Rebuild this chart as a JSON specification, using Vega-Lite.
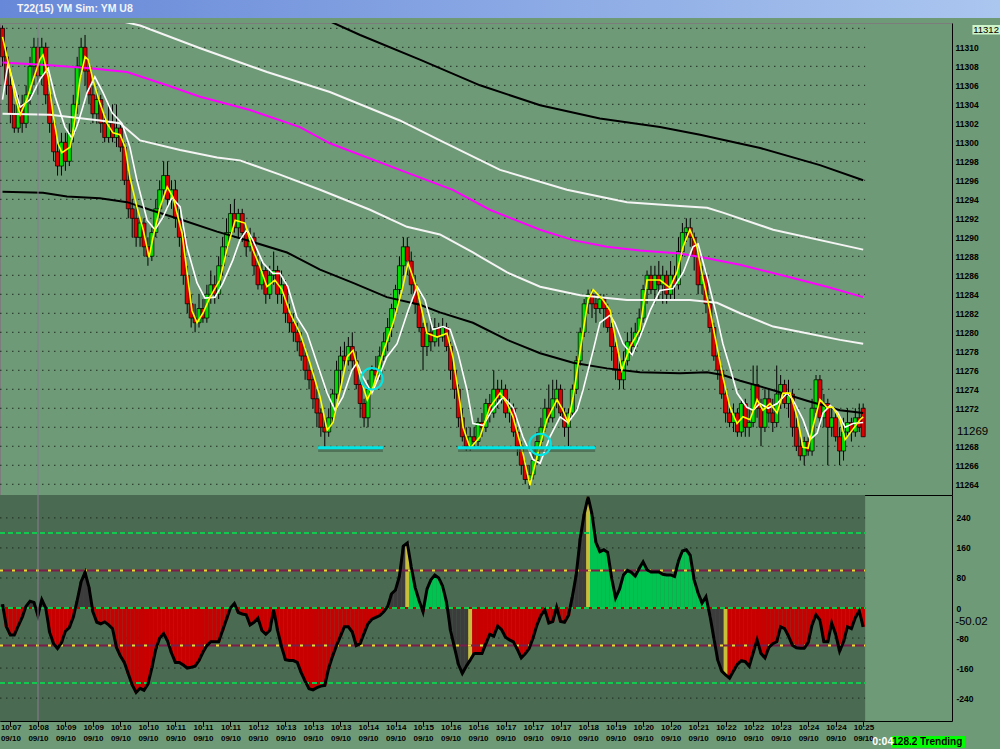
{
"$schema":"https://vega.github.io/schema/vega-lite/v6.json",
"background":"#6f9a77",
"padding":{"left":-4,"top":0,"right":0,"bottom":0},
"bounds":"flush",
"config":{"view":{"stroke":null},"scale":{"continuousPadding":0},"axis":{"labelFont":"Liberation Sans","labelFontWeight":"bold","labelFontSize":8.5,"labelColor":"#000"}},
"datasets":{
"bars":[
{"i":0,"o":11312,"h":11312.3,"l":11308,"c":11309,"v":10,"k":"d"},
{"i":1,"o":11309,"h":11310,"l":11305,"c":11306,"v":-50,"k":"r"},
{"i":2,"o":11306,"h":11307,"l":11302,"c":11303,"v":-72,"k":"r"},
{"i":3,"o":11303,"h":11304,"l":11301,"c":11301.5,"v":-72,"k":"r"},
{"i":4,"o":11301.5,"h":11305,"l":11301,"c":11304,"v":-48,"k":"r"},
{"i":5,"o":11304,"h":11305,"l":11301,"c":11302,"v":-25,"k":"r"},
{"i":6,"o":11302,"h":11306,"l":11301.5,"c":11305,"v":5,"k":"d"},
{"i":7,"o":11305,"h":11309,"l":11304,"c":11308,"v":18,"k":"d"},
{"i":8,"o":11308,"h":11311,"l":11306,"c":11310,"v":15,"k":"d"},
{"i":9,"o":11310,"h":11311,"l":11305,"c":11307,"v":-20,"k":"r"},
{"i":10,"o":11307,"h":11311,"l":11306,"c":11310,"v":22,"k":"d"},
{"i":11,"o":11310,"h":11310.5,"l":11304,"c":11305,"v":0,"k":"r"},
{"i":12,"o":11305,"h":11306,"l":11301,"c":11302,"v":-65,"k":"r"},
{"i":13,"o":11302,"h":11303,"l":11298,"c":11299,"v":-95,"k":"r"},
{"i":14,"o":11299,"h":11300,"l":11296.5,"c":11297.5,"v":-108,"k":"r"},
{"i":15,"o":11297.5,"h":11301,"l":11296.5,"c":11300,"v":-93,"k":"r"},
{"i":16,"o":11300,"h":11301,"l":11297,"c":11298,"v":-62,"k":"r"},
{"i":17,"o":11298,"h":11302,"l":11297.5,"c":11301,"v":-52,"k":"r"},
{"i":18,"o":11301,"h":11305,"l":11300,"c":11304,"v":-25,"k":"r"},
{"i":19,"o":11304,"h":11309,"l":11303,"c":11308,"v":20,"k":"d"},
{"i":20,"o":11308,"h":11311,"l":11307,"c":11310,"v":70,"k":"d"},
{"i":21,"o":11310,"h":11311.3,"l":11306,"c":11307.5,"v":95,"k":"d"},
{"i":22,"o":11307.5,"h":11308.5,"l":11304,"c":11305,"v":55,"k":"d"},
{"i":23,"o":11305,"h":11306,"l":11302,"c":11303,"v":-10,"k":"r"},
{"i":24,"o":11303,"h":11305.5,"l":11302,"c":11304.5,"v":-38,"k":"r"},
{"i":25,"o":11304.5,"h":11305,"l":11301,"c":11302,"v":-42,"k":"r"},
{"i":26,"o":11302,"h":11303,"l":11300,"c":11300.5,"v":-37,"k":"r"},
{"i":27,"o":11300.5,"h":11304,"l":11300,"c":11302,"v":-45,"k":"r"},
{"i":28,"o":11302,"h":11304,"l":11300,"c":11300.5,"v":-55,"k":"r"},
{"i":29,"o":11300.5,"h":11304,"l":11299.5,"c":11301.5,"v":-105,"k":"r"},
{"i":30,"o":11301.5,"h":11302,"l":11299,"c":11299.5,"v":-128,"k":"r"},
{"i":31,"o":11299.5,"h":11300,"l":11295.5,"c":11296,"v":-145,"k":"r"},
{"i":32,"o":11296,"h":11297,"l":11292,"c":11293,"v":-175,"k":"r"},
{"i":33,"o":11293,"h":11294,"l":11290,"c":11292,"v":-205,"k":"r"},
{"i":34,"o":11292,"h":11293.5,"l":11289,"c":11290,"v":-225,"k":"r"},
{"i":35,"o":11290,"h":11292,"l":11289,"c":11291.5,"v":-214,"k":"r"},
{"i":36,"o":11291.5,"h":11292,"l":11288,"c":11289,"v":-219,"k":"r"},
{"i":37,"o":11289,"h":11290,"l":11287,"c":11288,"v":-203,"k":"r"},
{"i":38,"o":11288,"h":11291,"l":11287.5,"c":11290.5,"v":-160,"k":"r"},
{"i":39,"o":11290.5,"h":11294,"l":11290,"c":11293,"v":-110,"k":"r"},
{"i":40,"o":11293,"h":11296,"l":11292,"c":11295,"v":-80,"k":"r"},
{"i":41,"o":11295,"h":11298,"l":11294,"c":11296.5,"v":-68,"k":"r"},
{"i":42,"o":11296.5,"h":11298,"l":11293,"c":11294,"v":-88,"k":"r"},
{"i":43,"o":11294,"h":11296,"l":11293,"c":11295,"v":-120,"k":"r"},
{"i":44,"o":11295,"h":11296,"l":11291,"c":11292,"v":-145,"k":"r"},
{"i":45,"o":11292,"h":11293,"l":11289,"c":11290,"v":-145,"k":"r"},
{"i":46,"o":11290,"h":11291,"l":11285,"c":11286,"v":-152,"k":"r"},
{"i":47,"o":11286,"h":11287,"l":11282,"c":11283,"v":-160,"k":"r"},
{"i":48,"o":11283,"h":11284,"l":11280.5,"c":11281.5,"v":-158,"k":"r"},
{"i":49,"o":11281.5,"h":11283,"l":11280,"c":11281,"v":-155,"k":"r"},
{"i":50,"o":11281,"h":11284,"l":11280.5,"c":11282.5,"v":-140,"k":"r"},
{"i":51,"o":11282.5,"h":11283.5,"l":11281,"c":11281.5,"v":-118,"k":"r"},
{"i":52,"o":11281.5,"h":11285,"l":11281,"c":11284,"v":-100,"k":"r"},
{"i":53,"o":11284,"h":11286.5,"l":11283,"c":11285,"v":-90,"k":"r"},
{"i":54,"o":11285,"h":11286,"l":11283,"c":11284,"v":-90,"k":"r"},
{"i":55,"o":11284,"h":11288,"l":11283.5,"c":11287,"v":-90,"k":"r"},
{"i":56,"o":11287,"h":11290,"l":11286,"c":11289,"v":-60,"k":"r"},
{"i":57,"o":11289,"h":11292,"l":11288,"c":11290.5,"v":-30,"k":"r"},
{"i":58,"o":11290.5,"h":11293.5,"l":11290,"c":11292.5,"v":0,"k":"r"},
{"i":59,"o":11292.5,"h":11294,"l":11290.5,"c":11291,"v":12,"k":"d"},
{"i":60,"o":11291,"h":11293,"l":11290,"c":11292.5,"v":-12,"k":"r"},
{"i":61,"o":11292.5,"h":11293,"l":11289.5,"c":11290.5,"v":-16,"k":"r"},
{"i":62,"o":11290.5,"h":11291,"l":11288,"c":11289,"v":-18,"k":"r"},
{"i":63,"o":11289,"h":11291,"l":11288.5,"c":11290,"v":-45,"k":"r"},
{"i":64,"o":11290,"h":11290.5,"l":11286,"c":11287,"v":-38,"k":"r"},
{"i":65,"o":11287,"h":11288,"l":11284.5,"c":11285,"v":-27,"k":"r"},
{"i":66,"o":11285,"h":11287.5,"l":11284.5,"c":11286.5,"v":-60,"k":"r"},
{"i":67,"o":11286.5,"h":11287,"l":11283,"c":11284,"v":-70,"k":"r"},
{"i":68,"o":11284,"h":11287,"l":11283.5,"c":11286,"v":-60,"k":"r"},
{"i":69,"o":11286,"h":11288.5,"l":11285,"c":11286.5,"v":-5,"k":"r"},
{"i":70,"o":11286.5,"h":11287,"l":11283,"c":11284,"v":-60,"k":"r"},
{"i":71,"o":11284,"h":11286.5,"l":11283,"c":11285,"v":-103,"k":"r"},
{"i":72,"o":11285,"h":11285.5,"l":11281,"c":11282,"v":-138,"k":"r"},
{"i":73,"o":11282,"h":11283,"l":11280,"c":11281,"v":-140,"k":"r"},
{"i":74,"o":11281,"h":11282,"l":11279,"c":11280,"v":-140,"k":"r"},
{"i":75,"o":11280,"h":11281,"l":11278,"c":11279,"v":-145,"k":"r"},
{"i":76,"o":11279,"h":11280,"l":11277,"c":11277.5,"v":-172,"k":"r"},
{"i":77,"o":11277.5,"h":11278.5,"l":11275,"c":11276,"v":-195,"k":"r"},
{"i":78,"o":11276,"h":11277,"l":11274,"c":11275,"v":-215,"k":"r"},
{"i":79,"o":11275,"h":11276,"l":11272,"c":11273,"v":-218,"k":"r"},
{"i":80,"o":11273,"h":11274,"l":11270,"c":11271.5,"v":-212,"k":"r"},
{"i":81,"o":11271.5,"h":11272,"l":11269,"c":11270,"v":-208,"k":"r"},
{"i":82,"o":11270,"h":11271,"l":11268,"c":11269.5,"v":-206,"k":"r"},
{"i":83,"o":11269.5,"h":11272,"l":11269,"c":11271,"v":-160,"k":"r"},
{"i":84,"o":11271,"h":11274,"l":11270.5,"c":11273.5,"v":-128,"k":"r"},
{"i":85,"o":11273.5,"h":11277,"l":11273,"c":11276,"v":-100,"k":"r"},
{"i":86,"o":11276,"h":11278.5,"l":11274,"c":11277.5,"v":-75,"k":"r"},
{"i":87,"o":11277.5,"h":11279,"l":11276,"c":11277,"v":-50,"k":"r"},
{"i":88,"o":11277,"h":11279.5,"l":11276.5,"c":11278.5,"v":-50,"k":"r"},
{"i":89,"o":11278.5,"h":11280,"l":11276,"c":11277,"v":-64,"k":"r"},
{"i":90,"o":11277,"h":11278,"l":11274,"c":11274.5,"v":-100,"k":"r"},
{"i":91,"o":11274.5,"h":11275,"l":11271,"c":11272.5,"v":-95,"k":"r"},
{"i":92,"o":11272.5,"h":11273,"l":11270,"c":11271,"v":-68,"k":"r"},
{"i":93,"o":11271,"h":11275,"l":11270,"c":11274,"v":-42,"k":"r"},
{"i":94,"o":11274,"h":11276.5,"l":11273.5,"c":11276,"v":-30,"k":"r"},
{"i":95,"o":11276,"h":11277.5,"l":11275,"c":11275.5,"v":-25,"k":"r"},
{"i":96,"o":11275.5,"h":11278.5,"l":11275,"c":11277.5,"v":-20,"k":"r"},
{"i":97,"o":11277.5,"h":11280,"l":11277,"c":11279,"v":-10,"k":"r"},
{"i":98,"o":11279,"h":11281.5,"l":11278,"c":11280.5,"v":4,"k":"d"},
{"i":99,"o":11280.5,"h":11283,"l":11279.5,"c":11282.5,"v":38,"k":"d"},
{"i":100,"o":11282.5,"h":11285,"l":11282,"c":11284.5,"v":48,"k":"d"},
{"i":101,"o":11284.5,"h":11288,"l":11284,"c":11287,"v":85,"k":"d"},
{"i":102,"o":11287,"h":11290,"l":11286,"c":11289,"v":165,"k":"d"},
{"i":103,"o":11289,"h":11290,"l":11286,"c":11287.5,"v":173,"k":"y"},
{"i":104,"o":11287.5,"h":11288.5,"l":11284,"c":11285,"v":110,"k":"g"},
{"i":105,"o":11285,"h":11286,"l":11282,"c":11283,"v":55,"k":"g"},
{"i":106,"o":11283,"h":11283.5,"l":11280,"c":11280.5,"v":20,"k":"g"},
{"i":107,"o":11280.5,"h":11281,"l":11276,"c":11278.5,"v":-10,"k":"r"},
{"i":108,"o":11278.5,"h":11281,"l":11277.5,"c":11280,"v":50,"k":"g"},
{"i":109,"o":11280,"h":11281.5,"l":11278,"c":11279,"v":75,"k":"g"},
{"i":110,"o":11279,"h":11281.5,"l":11278.5,"c":11280.5,"v":88,"k":"g"},
{"i":111,"o":11280.5,"h":11281,"l":11278.5,"c":11279.5,"v":80,"k":"g"},
{"i":112,"o":11279.5,"h":11281.5,"l":11279,"c":11280.5,"v":58,"k":"g"},
{"i":113,"o":11280.5,"h":11281,"l":11278,"c":11278.5,"v":15,"k":"g"},
{"i":114,"o":11278.5,"h":11279,"l":11275,"c":11276,"v":-60,"k":"d"},
{"i":115,"o":11276,"h":11276.5,"l":11273,"c":11274,"v":-105,"k":"d"},
{"i":116,"o":11274,"h":11274.5,"l":11270,"c":11271,"v":-150,"k":"d"},
{"i":117,"o":11271,"h":11272,"l":11268.5,"c":11269,"v":-174,"k":"d"},
{"i":118,"o":11269,"h":11270,"l":11267.5,"c":11268,"v":-155,"k":"d"},
{"i":119,"o":11268,"h":11270,"l":11267.5,"c":11269,"v":-139,"k":"y"},
{"i":120,"o":11269,"h":11270,"l":11268,"c":11268.5,"v":-121,"k":"r"},
{"i":121,"o":11268.5,"h":11271,"l":11268,"c":11270.5,"v":-121,"k":"r"},
{"i":122,"o":11270.5,"h":11271.5,"l":11269,"c":11270,"v":-121,"k":"r"},
{"i":123,"o":11270,"h":11273,"l":11269.5,"c":11272.5,"v":-95,"k":"r"},
{"i":124,"o":11272.5,"h":11273.5,"l":11270.5,"c":11271.5,"v":-70,"k":"r"},
{"i":125,"o":11271.5,"h":11276,"l":11271,"c":11274,"v":-75,"k":"r"},
{"i":126,"o":11274,"h":11275,"l":11272,"c":11273,"v":-48,"k":"r"},
{"i":127,"o":11273,"h":11275,"l":11272.5,"c":11274,"v":-58,"k":"r"},
{"i":128,"o":11274,"h":11274.5,"l":11271,"c":11271.5,"v":-78,"k":"r"},
{"i":129,"o":11271.5,"h":11273,"l":11270.5,"c":11272,"v":-85,"k":"r"},
{"i":130,"o":11272,"h":11272.5,"l":11269,"c":11269.5,"v":-90,"k":"r"},
{"i":131,"o":11269.5,"h":11270,"l":11267,"c":11268,"v":-110,"k":"r"},
{"i":132,"o":11268,"h":11268.5,"l":11265,"c":11266,"v":-133,"k":"r"},
{"i":133,"o":11266,"h":11266.5,"l":11264,"c":11264.5,"v":-122,"k":"r"},
{"i":134,"o":11264.5,"h":11266,"l":11263.5,"c":11265,"v":-108,"k":"r"},
{"i":135,"o":11265,"h":11267.5,"l":11264.5,"c":11266.5,"v":-80,"k":"r"},
{"i":136,"o":11266.5,"h":11269.5,"l":11266,"c":11268.5,"v":-45,"k":"r"},
{"i":137,"o":11268.5,"h":11271,"l":11268,"c":11270,"v":-20,"k":"r"},
{"i":138,"o":11270,"h":11273,"l":11269.5,"c":11272,"v":-5,"k":"r"},
{"i":139,"o":11272,"h":11274.5,"l":11270.5,"c":11271,"v":-40,"k":"r"},
{"i":140,"o":11271,"h":11275,"l":11270.5,"c":11273,"v":-36,"k":"r"},
{"i":141,"o":11273,"h":11275,"l":11272,"c":11274,"v":2,"k":"d"},
{"i":142,"o":11274,"h":11274.5,"l":11271,"c":11271.5,"v":-36,"k":"r"},
{"i":143,"o":11271.5,"h":11272,"l":11269,"c":11270,"v":-38,"k":"r"},
{"i":144,"o":11270,"h":11272,"l":11268,"c":11271.5,"v":-20,"k":"r"},
{"i":145,"o":11271.5,"h":11274.5,"l":11271,"c":11274,"v":30,"k":"d"},
{"i":146,"o":11274,"h":11277.5,"l":11273.5,"c":11277,"v":90,"k":"d"},
{"i":147,"o":11277,"h":11280.5,"l":11276.5,"c":11280,"v":185,"k":"d"},
{"i":148,"o":11280,"h":11283.5,"l":11279.5,"c":11283,"v":250,"k":"d"},
{"i":149,"o":11283,"h":11284.5,"l":11282,"c":11284,"v":296,"k":"y"},
{"i":150,"o":11284,"h":11284.5,"l":11281.5,"c":11283,"v":250,"k":"g"},
{"i":151,"o":11283,"h":11284,"l":11281,"c":11282.5,"v":175,"k":"g"},
{"i":152,"o":11282.5,"h":11284,"l":11282,"c":11283.5,"v":150,"k":"g"},
{"i":153,"o":11283.5,"h":11284,"l":11280.5,"c":11282.5,"v":155,"k":"g"},
{"i":154,"o":11282.5,"h":11283,"l":11280,"c":11280.5,"v":148,"k":"g"},
{"i":155,"o":11280.5,"h":11281,"l":11277,"c":11278.5,"v":80,"k":"g"},
{"i":156,"o":11278.5,"h":11279,"l":11275,"c":11276,"v":27,"k":"g"},
{"i":157,"o":11276,"h":11277,"l":11274,"c":11275,"v":50,"k":"g"},
{"i":158,"o":11275,"h":11278,"l":11274,"c":11277,"v":88,"k":"g"},
{"i":159,"o":11277,"h":11280,"l":11276.5,"c":11279,"v":100,"k":"g"},
{"i":160,"o":11279,"h":11280.5,"l":11277.5,"c":11278.5,"v":95,"k":"g"},
{"i":161,"o":11278.5,"h":11281,"l":11278,"c":11280,"v":85,"k":"g"},
{"i":162,"o":11280,"h":11282.5,"l":11279.5,"c":11281.5,"v":105,"k":"g"},
{"i":163,"o":11281.5,"h":11285,"l":11281,"c":11284.5,"v":123,"k":"g"},
{"i":164,"o":11284.5,"h":11286.5,"l":11283,"c":11286,"v":102,"k":"g"},
{"i":165,"o":11286,"h":11287,"l":11284,"c":11284.5,"v":96,"k":"g"},
{"i":166,"o":11284.5,"h":11287,"l":11283,"c":11286,"v":96,"k":"g"},
{"i":167,"o":11286,"h":11287.5,"l":11283.5,"c":11285,"v":96,"k":"g"},
{"i":168,"o":11285,"h":11287,"l":11283,"c":11286,"v":90,"k":"g"},
{"i":169,"o":11286,"h":11286.5,"l":11283,"c":11284,"v":88,"k":"g"},
{"i":170,"o":11284,"h":11287.5,"l":11283.5,"c":11286,"v":88,"k":"g"},
{"i":171,"o":11286,"h":11287,"l":11283.5,"c":11285,"v":84,"k":"g"},
{"i":172,"o":11285,"h":11290,"l":11284.5,"c":11288.5,"v":125,"k":"g"},
{"i":173,"o":11288.5,"h":11291.5,"l":11288,"c":11290.5,"v":152,"k":"g"},
{"i":174,"o":11290.5,"h":11292,"l":11289.5,"c":11291,"v":155,"k":"g"},
{"i":175,"o":11291,"h":11292,"l":11289,"c":11290,"v":140,"k":"g"},
{"i":176,"o":11290,"h":11290.5,"l":11286.5,"c":11288,"v":75,"k":"g"},
{"i":177,"o":11288,"h":11288.5,"l":11284,"c":11285,"v":40,"k":"g"},
{"i":178,"o":11285,"h":11287,"l":11284,"c":11286,"v":13,"k":"g"},
{"i":179,"o":11286,"h":11286.5,"l":11282,"c":11283,"v":30,"k":"g"},
{"i":180,"o":11283,"h":11283.5,"l":11280,"c":11280.5,"v":-20,"k":"d"},
{"i":181,"o":11280.5,"h":11281,"l":11277,"c":11277.5,"v":-80,"k":"d"},
{"i":182,"o":11277.5,"h":11278,"l":11275,"c":11276,"v":-139,"k":"d"},
{"i":183,"o":11276,"h":11276.5,"l":11273,"c":11273.5,"v":-168,"k":"d"},
{"i":184,"o":11273.5,"h":11274,"l":11270.5,"c":11271.5,"v":-178,"k":"y"},
{"i":185,"o":11271.5,"h":11272.5,"l":11270,"c":11270.5,"v":-187,"k":"r"},
{"i":186,"o":11270.5,"h":11272.5,"l":11269.5,"c":11271.5,"v":-168,"k":"r"},
{"i":187,"o":11271.5,"h":11272,"l":11269,"c":11269.5,"v":-150,"k":"r"},
{"i":188,"o":11269.5,"h":11273,"l":11269,"c":11272.5,"v":-140,"k":"r"},
{"i":189,"o":11272.5,"h":11273,"l":11269,"c":11270,"v":-143,"k":"r"},
{"i":190,"o":11270,"h":11272,"l":11269,"c":11270.5,"v":-155,"k":"r"},
{"i":191,"o":11270.5,"h":11276.5,"l":11270,"c":11274.5,"v":-120,"k":"r"},
{"i":192,"o":11274.5,"h":11276.5,"l":11271,"c":11272,"v":-85,"k":"r"},
{"i":193,"o":11272,"h":11273,"l":11268,"c":11270,"v":-121,"k":"r"},
{"i":194,"o":11270,"h":11274,"l":11269.5,"c":11273,"v":-133,"k":"r"},
{"i":195,"o":11273,"h":11274,"l":11270.5,"c":11271.5,"v":-105,"k":"r"},
{"i":196,"o":11271.5,"h":11273,"l":11269.5,"c":11270.5,"v":-95,"k":"r"},
{"i":197,"o":11270.5,"h":11276.5,"l":11270,"c":11273.5,"v":-90,"k":"r"},
{"i":198,"o":11273.5,"h":11275.5,"l":11272,"c":11274.5,"v":-50,"k":"r"},
{"i":199,"o":11274.5,"h":11275,"l":11272,"c":11272.5,"v":-55,"k":"r"},
{"i":200,"o":11272.5,"h":11275,"l":11271,"c":11273.5,"v":-75,"k":"r"},
{"i":201,"o":11273.5,"h":11274,"l":11269,"c":11270,"v":-99,"k":"r"},
{"i":202,"o":11270,"h":11271,"l":11267.5,"c":11268,"v":-106,"k":"r"},
{"i":203,"o":11268,"h":11269,"l":11266.5,"c":11267,"v":-107,"k":"r"},
{"i":204,"o":11267,"h":11269,"l":11266,"c":11268.5,"v":-107,"k":"r"},
{"i":205,"o":11268.5,"h":11269,"l":11267,"c":11267.5,"v":-92,"k":"r"},
{"i":206,"o":11267.5,"h":11273,"l":11267,"c":11272,"v":-45,"k":"r"},
{"i":207,"o":11272,"h":11275.5,"l":11271.5,"c":11275,"v":-18,"k":"r"},
{"i":208,"o":11275,"h":11275.5,"l":11270,"c":11271,"v":-32,"k":"r"},
{"i":209,"o":11271,"h":11273.5,"l":11270,"c":11272.5,"v":-90,"k":"r"},
{"i":210,"o":11272.5,"h":11273,"l":11266,"c":11270,"v":-90,"k":"r"},
{"i":211,"o":11270,"h":11272,"l":11269,"c":11271,"v":-40,"k":"r"},
{"i":212,"o":11271,"h":11272,"l":11268.5,"c":11269,"v":-70,"k":"r"},
{"i":213,"o":11269,"h":11270,"l":11266,"c":11267.5,"v":-115,"k":"r"},
{"i":214,"o":11267.5,"h":11271,"l":11266.5,"c":11269.5,"v":-90,"k":"r"},
{"i":215,"o":11269.5,"h":11272,"l":11269,"c":11270.5,"v":-50,"k":"r"},
{"i":216,"o":11270.5,"h":11271,"l":11268.5,"c":11269.5,"v":-55,"k":"r"},
{"i":217,"o":11269.5,"h":11272,"l":11269,"c":11271,"v":-26,"k":"r"},
{"i":218,"o":11271,"h":11272.5,"l":11269.5,"c":11270,"v":-8,"k":"r"},
{"i":219,"o":11272,"h":11272.5,"l":11269,"c":11269,"v":-50,"k":"r"}
],
"lines":[
{"s":"u","i":22.3,"p":11313.2},{"s":"u","i":26.6,"p":11313.1},{"s":"u","i":35.0,"p":11312.3},{"s":"u","i":50.3,"p":11309.9},{"s":"u","i":67.3,"p":11307.4},{"s":"u","i":83.3,"p":11305.3},{"s":"u","i":101.1,"p":11302.3},{"s":"u","i":111.3,"p":11300.2},{"s":"u","i":126.6,"p":11297.1},{"s":"u","i":143.6,"p":11295.0},{"s":"u","i":158.9,"p":11293.7},{"s":"u","i":172.4,"p":11293.3},{"s":"u","i":179.3,"p":11293.1},{"s":"u","i":183.3,"p":11292.6},{"s":"u","i":196.1,"p":11290.8},{"s":"u","i":219.0,"p":11288.7},
{"s":"m","i":0,"p":11303.0},{"s":"m","i":12.1,"p":11302.9},{"s":"m","i":24.8,"p":11302.3},{"s":"m","i":29.9,"p":11302.0},{"s":"m","i":35.0,"p":11300.2},{"s":"m","i":45.2,"p":11299.2},{"s":"m","i":54.6,"p":11298.4},{"s":"m","i":60.4,"p":11298.1},{"s":"m","i":70.6,"p":11296.6},{"s":"m","i":80.8,"p":11295.0},{"s":"m","i":93.5,"p":11292.9},{"s":"m","i":102.9,"p":11291.1},{"s":"m","i":111.3,"p":11290.3},{"s":"m","i":119.7,"p":11288.4},{"s":"m","i":128.4,"p":11286.3},{"s":"m","i":136.8,"p":11284.8},{"s":"m","i":147.0,"p":11283.9},{"s":"m","i":158.9,"p":11283.4},{"s":"m","i":174.9,"p":11283.4},{"s":"m","i":181.8,"p":11283.1},{"s":"m","i":187.7,"p":11282.0},{"s":"m","i":196.1,"p":11280.6},{"s":"m","i":204.7,"p":11279.9},{"s":"m","i":213.1,"p":11279.2},{"s":"m","i":219.0,"p":11278.8},
{"s":"g","i":0,"p":11308.4},{"s":"g","i":12.1,"p":11308.1},{"s":"g","i":22.3,"p":11307.8},{"s":"g","i":31.7,"p":11307.4},{"s":"g","i":41.9,"p":11306.0},{"s":"g","i":50.3,"p":11304.8},{"s":"g","i":63.0,"p":11303.4},{"s":"g","i":75.7,"p":11301.6},{"s":"g","i":83.3,"p":11299.9},{"s":"g","i":101.1,"p":11297.1},{"s":"g","i":114.6,"p":11295.0},{"s":"g","i":124.0,"p":11292.9},{"s":"g","i":136.8,"p":11290.8},{"s":"g","i":145.2,"p":11289.7},{"s":"g","i":153.8,"p":11289.0},{"s":"g","i":162.2,"p":11288.6},{"s":"g","i":172.4,"p":11288.3},{"s":"g","i":179.3,"p":11287.8},{"s":"g","i":187.7,"p":11287.1},{"s":"g","i":200.4,"p":11285.8},{"s":"g","i":209.8,"p":11284.8},{"s":"g","i":219.0,"p":11283.7},
{"s":"b","i":80.8,"p":11313.2},{"s":"b","i":91.0,"p":11311.3},{"s":"b","i":106.2,"p":11308.7},{"s":"b","i":121.5,"p":11306.0},{"s":"b","i":136.8,"p":11303.9},{"s":"b","i":152.0,"p":11302.5},{"s":"b","i":167.3,"p":11301.6},{"s":"b","i":177.5,"p":11300.8},{"s":"b","i":192.8,"p":11299.4},{"s":"b","i":208.0,"p":11297.6},{"s":"b","i":219.0,"p":11296.0},
{"s":"k","i":0,"p":11294.8},{"s":"k","i":10.3,"p":11294.7},{"s":"k","i":16.4,"p":11294.3},{"s":"k","i":24.8,"p":11294.1},{"s":"k","i":31.7,"p":11293.7},{"s":"k","i":37.5,"p":11292.9},{"s":"k","i":45.9,"p":11291.8},{"s":"k","i":54.6,"p":11290.6},{"s":"k","i":63.7,"p":11289.5},{"s":"k","i":72.4,"p":11288.4},{"s":"k","i":80.8,"p":11286.6},{"s":"k","i":89.2,"p":11285.2},{"s":"k","i":97.8,"p":11283.7},{"s":"k","i":106.2,"p":11282.9},{"s":"k","i":111.3,"p":11282.1},{"s":"k","i":119.7,"p":11281.0},{"s":"k","i":128.4,"p":11279.2},{"s":"k","i":136.8,"p":11277.8},{"s":"k","i":145.2,"p":11276.8},{"s":"k","i":153.8,"p":11276.2},{"s":"k","i":162.2,"p":11275.8},{"s":"k","i":172.4,"p":11275.7},{"s":"k","i":179.3,"p":11275.8},{"s":"k","i":183.3,"p":11275.5},{"s":"k","i":187.7,"p":11274.9},{"s":"k","i":196.1,"p":11273.9},{"s":"k","i":204.7,"p":11272.8},{"s":"k","i":213.1,"p":11271.8},{"s":"k","i":219.0,"p":11271.5},
{"s":"w","i":0,"p":11304.5},{"s":"w","i":1.4,"p":11308.3},{"s":"w","i":4.5,"p":11303.7},{"s":"w","i":7.0,"p":11304.5},{"s":"w","i":9.5,"p":11306.6},{"s":"w","i":11.6,"p":11307.8},{"s":"w","i":13.4,"p":11304.8},{"s":"w","i":15.9,"p":11301.6},{"s":"w","i":17.7,"p":11300.4},{"s":"w","i":19.2,"p":11302.0},{"s":"w","i":21.5,"p":11305.2},{"s":"w","i":23.5,"p":11306.9},{"s":"w","i":25.6,"p":11305.2},{"s":"w","i":27.9,"p":11303.1},{"s":"w","i":30.4,"p":11302.0},{"s":"w","i":32.4,"p":11299.5},{"s":"w","i":34.2,"p":11296.0},{"s":"w","i":36.8,"p":11291.8},{"s":"w","i":38.8,"p":11290.8},{"s":"w","i":40.8,"p":11292.1},{"s":"w","i":43.1,"p":11294.2},{"s":"w","i":45.2,"p":11293.2},{"s":"w","i":46.9,"p":11289.0},{"s":"w","i":49.5,"p":11285.2},{"s":"w","i":51.5,"p":11283.6},{"s":"w","i":54.1,"p":11283.7},{"s":"w","i":56.1,"p":11285.2},{"s":"w","i":58.6,"p":11287.6},{"s":"w","i":60.4,"p":11289.7},{"s":"w","i":62.2,"p":11290.8},{"s":"w","i":63.7,"p":11289.7},{"s":"w","i":66.3,"p":11287.3},{"s":"w","i":68.8,"p":11286.2},{"s":"w","i":70.6,"p":11286.2},{"s":"w","i":72.6,"p":11284.8},{"s":"w","i":74.9,"p":11281.6},{"s":"w","i":77.5,"p":11279.9},{"s":"w","i":80.0,"p":11276.8},{"s":"w","i":82.6,"p":11273.6},{"s":"w","i":84.6,"p":11271.8},{"s":"w","i":86.6,"p":11273.2},{"s":"w","i":88.9,"p":11276.0},{"s":"w","i":90.2,"p":11276.8},{"s":"w","i":91.7,"p":11275.3},{"s":"w","i":94.0,"p":11273.6},{"s":"w","i":96.1,"p":11275.7},{"s":"w","i":97.8,"p":11277.4},{"s":"w","i":100.4,"p":11278.8},{"s":"w","i":103.2,"p":11282.3},{"s":"w","i":105.5,"p":11284.8},{"s":"w","i":107.5,"p":11283.4},{"s":"w","i":109.5,"p":11280.3},{"s":"w","i":112.1,"p":11280.6},{"s":"w","i":113.9,"p":11280.3},{"s":"w","i":115.9,"p":11277.8},{"s":"w","i":118.2,"p":11273.9},{"s":"w","i":119.7,"p":11270.4},{"s":"w","i":122.3,"p":11270.2},{"s":"w","i":124.6,"p":11271.8},{"s":"w","i":127.4,"p":11273.2},{"s":"w","i":129.9,"p":11272.1},{"s":"w","i":132.4,"p":11269.0},{"s":"w","i":135.0,"p":11266.6},{"s":"w","i":136.8,"p":11266.2},{"s":"w","i":139.3,"p":11269.0},{"s":"w","i":141.9,"p":11271.1},{"s":"w","i":143.9,"p":11270.5},{"s":"w","i":146.2,"p":11271.8},{"s":"w","i":147.7,"p":11273.9},{"s":"w","i":150.3,"p":11278.1},{"s":"w","i":152.0,"p":11281.0},{"s":"w","i":154.6,"p":11281.8},{"s":"w","i":155.8,"p":11281.0},{"s":"w","i":157.9,"p":11278.8},{"s":"w","i":160.2,"p":11277.6},{"s":"w","i":162.2,"p":11279.5},{"s":"w","i":164.8,"p":11282.3},{"s":"w","i":167.3,"p":11284.4},{"s":"w","i":170.6,"p":11284.6},{"s":"w","i":173.2,"p":11286.3},{"s":"w","i":175.7,"p":11289.0},{"s":"w","i":177.0,"p":11289.3},{"s":"w","i":179.3,"p":11285.8},{"s":"w","i":181.8,"p":11281.6},{"s":"w","i":183.3,"p":11278.8},{"s":"w","i":185.1,"p":11276.3},{"s":"w","i":186.9,"p":11273.6},{"s":"w","i":189.4,"p":11272.1},{"s":"w","i":191.0,"p":11271.8},{"s":"w","i":192.7,"p":11272.5},{"s":"w","i":194.8,"p":11272.0},{"s":"w","i":197.1,"p":11272.5},{"s":"w","i":199.6,"p":11273.6},{"s":"w","i":201.1,"p":11272.9},{"s":"w","i":203.7,"p":11270.8},{"s":"w","i":205.5,"p":11268.7},{"s":"w","i":207.3,"p":11269.4},{"s":"w","i":208.8,"p":11271.5},{"s":"w","i":210.6,"p":11272.3},{"s":"w","i":212.6,"p":11271.5},{"s":"w","i":214.4,"p":11270.0},{"s":"w","i":216.4,"p":11270.4},{"s":"w","i":219.0,"p":11270.5},
{"s":"y","i":0,"p":11311.1},{"s":"y","i":1.9,"p":11307.6},{"s":"y","i":3.2,"p":11304.8},{"s":"y","i":4.5,"p":11302.9},{"s":"y","i":6.2,"p":11304.5},{"s":"y","i":7.8,"p":11306.6},{"s":"y","i":9.5,"p":11308.7},{"s":"y","i":10.3,"p":11309.2},{"s":"y","i":11.6,"p":11306.9},{"s":"y","i":12.8,"p":11303.1},{"s":"y","i":14.1,"p":11299.9},{"s":"y","i":15.1,"p":11298.9},{"s":"y","i":17.2,"p":11299.5},{"s":"y","i":18.4,"p":11302.3},{"s":"y","i":19.7,"p":11306.6},{"s":"y","i":21.0,"p":11309.0},{"s":"y","i":21.8,"p":11308.7},{"s":"y","i":23.0,"p":11306.6},{"s":"y","i":24.8,"p":11304.1},{"s":"y","i":26.6,"p":11302.0},{"s":"y","i":28.1,"p":11301.0},{"s":"y","i":29.9,"p":11300.8},{"s":"y","i":31.2,"p":11299.5},{"s":"y","i":32.4,"p":11296.3},{"s":"y","i":34.2,"p":11293.2},{"s":"y","i":35.8,"p":11290.8},{"s":"y","i":37.3,"p":11287.9},{"s":"y","i":38.3,"p":11290.0},{"s":"y","i":40.1,"p":11293.2},{"s":"y","i":41.9,"p":11295.3},{"s":"y","i":43.4,"p":11294.2},{"s":"y","i":45.7,"p":11290.4},{"s":"y","i":46.9,"p":11286.5},{"s":"y","i":48.2,"p":11282.3},{"s":"y","i":49.5,"p":11281.0},{"s":"y","i":51.0,"p":11282.0},{"s":"y","i":52.8,"p":11283.7},{"s":"y","i":55.3,"p":11285.5},{"s":"y","i":57.1,"p":11288.7},{"s":"y","i":59.2,"p":11291.8},{"s":"y","i":61.7,"p":11291.5},{"s":"y","i":63.7,"p":11288.7},{"s":"y","i":65.5,"p":11286.9},{"s":"y","i":67.3,"p":11284.8},{"s":"y","i":69.3,"p":11285.5},{"s":"y","i":71.1,"p":11284.5},{"s":"y","i":73.2,"p":11282.0},{"s":"y","i":75.7,"p":11279.9},{"s":"y","i":78.2,"p":11276.8},{"s":"y","i":80.8,"p":11273.2},{"s":"y","i":82.6,"p":11269.7},{"s":"y","i":84.1,"p":11270.5},{"s":"y","i":85.9,"p":11273.9},{"s":"y","i":87.7,"p":11277.4},{"s":"y","i":89.2,"p":11278.1},{"s":"y","i":91.0,"p":11275.3},{"s":"y","i":92.8,"p":11272.9},{"s":"y","i":94.3,"p":11274.2},{"s":"y","i":96.8,"p":11277.8},{"s":"y","i":99.4,"p":11281.0},{"s":"y","i":101.7,"p":11284.5},{"s":"y","i":103.2,"p":11287.3},{"s":"y","i":105.5,"p":11284.5},{"s":"y","i":108.0,"p":11279.9},{"s":"y","i":110.6,"p":11279.5},{"s":"y","i":113.1,"p":11279.9},{"s":"y","i":114.6,"p":11277.4},{"s":"y","i":116.4,"p":11272.6},{"s":"y","i":117.2,"p":11270.0},{"s":"y","i":119.0,"p":11267.8},{"s":"y","i":121.5,"p":11269.0},{"s":"y","i":124.0,"p":11272.1},{"s":"y","i":126.6,"p":11273.6},{"s":"y","i":128.4,"p":11272.5},{"s":"y","i":129.9,"p":11271.1},{"s":"y","i":132.4,"p":11267.3},{"s":"y","i":134.2,"p":11263.9},{"s":"y","i":136.0,"p":11266.9},{"s":"y","i":138.5,"p":11270.8},{"s":"y","i":141.1,"p":11272.9},{"s":"y","i":142.6,"p":11271.8},{"s":"y","i":143.9,"p":11270.5},{"s":"y","i":145.2,"p":11273.2},{"s":"y","i":147.0,"p":11278.1},{"s":"y","i":149.0,"p":11283.4},{"s":"y","i":150.3,"p":11284.5},{"s":"y","i":152.8,"p":11283.4},{"s":"y","i":154.6,"p":11282.3},{"s":"y","i":156.4,"p":11278.5},{"s":"y","i":157.6,"p":11276.0},{"s":"y","i":159.7,"p":11278.5},{"s":"y","i":162.2,"p":11280.3},{"s":"y","i":164.0,"p":11285.5},{"s":"y","i":167.3,"p":11285.5},{"s":"y","i":169.8,"p":11284.7},{"s":"y","i":171.6,"p":11286.3},{"s":"y","i":173.2,"p":11289.0},{"s":"y","i":174.9,"p":11290.8},{"s":"y","i":176.7,"p":11289.0},{"s":"y","i":178.3,"p":11285.5},{"s":"y","i":180.0,"p":11282.3},{"s":"y","i":181.8,"p":11278.5},{"s":"y","i":183.3,"p":11275.3},{"s":"y","i":185.1,"p":11272.1},{"s":"y","i":186.9,"p":11270.4},{"s":"y","i":188.4,"p":11271.1},{"s":"y","i":190.2,"p":11270.8},{"s":"y","i":192.0,"p":11272.9},{"s":"y","i":193.5,"p":11271.8},{"s":"y","i":195.3,"p":11272.5},{"s":"y","i":197.1,"p":11271.5},{"s":"y","i":198.6,"p":11273.6},{"s":"y","i":200.4,"p":11273.6},{"s":"y","i":202.2,"p":11271.1},{"s":"y","i":203.7,"p":11267.9},{"s":"y","i":205.0,"p":11267.8},{"s":"y","i":206.2,"p":11270.0},{"s":"y","i":208.0,"p":11272.9},{"s":"y","i":209.8,"p":11272.1},{"s":"y","i":211.3,"p":11272.1},{"s":"y","i":213.1,"p":11270.8},{"s":"y","i":214.4,"p":11268.7},{"s":"y","i":216.2,"p":11269.7},{"s":"y","i":218.2,"p":11270.8},{"s":"y","i":219.0,"p":11271.1}
],
"pgrid":[{"g":11264},{"g":11266},{"g":11268},{"g":11270},{"g":11272},{"g":11274},{"g":11276},{"g":11278},{"g":11280},{"g":11282},{"g":11284},{"g":11286},{"g":11288},{"g":11290},{"g":11292},{"g":11294},{"g":11296},{"g":11298},{"g":11300},{"g":11302},{"g":11304},{"g":11306},{"g":11308},{"g":11310},{"g":11312}],
"ogrid":[{"v":240,"t":"d"},{"v":160,"t":"d"},{"v":80,"t":"d"},{"v":-80,"t":"d"},{"v":-160,"t":"d"},{"v":-240,"t":"d"},{"v":200,"t":"g"},{"v":-200,"t":"g"},{"v":0,"t":"z"},{"v":100,"t":"m"},{"v":-100,"t":"m"}],
"cursor":[{"c":9.03}]
},
"spacing":0,
"vconcat":[
{
"width":1000,"height":23,
"view":{"fill":null,"stroke":null},
"data":{"values":[{"t":"T22(15) YM Sim: YM U8"}]},
"layer":[
{"mark":{"type":"rect","fill":{"gradient":"linear","x1":0,"y1":0,"x2":1,"y2":0,"stops":[{"offset":0,"color":"#6788d8"},{"offset":1,"color":"#abc6ef"}]}},
 "encoding":{"x":{"value":0},"x2":{"value":"width"},"y":{"value":0},"y2":{"value":18}}},
{"mark":{"type":"text","align":"left","baseline":"middle","font":"Liberation Sans","fontWeight":"bold","fontSize":10.5,"color":"#f4f4f4"},
 "encoding":{"x":{"value":17},"y":{"value":9},"text":{"field":"t"}}}
]
},
{
"width":952,"height":472,
"view":{"fill":"#6f9a77","stroke":"#7c7c7c"},
"resolve":{"axis":{"x":"independent","y":"independent"}},
"layer":[
{"data":{"name":"pgrid"},"mark":{"type":"rule","color":"#1f2f22","strokeDash":[1.5,4.5],"strokeWidth":1},
 "encoding":{"y":{"field":"g","type":"quantitative","scale":{"domain":[11262.87,11312.56],"nice":false,"zero":false,"padding":0},
   "axis":{"orient":"right","values":[11264,11266,11268,11272,11274,11276,11278,11280,11282,11284,11286,11288,11290,11292,11294,11296,11298,11300,11302,11304,11306,11308,11310],"labelExpr":"''+datum.value","title":null,"ticks":false,"grid":false,"domain":true,"domainColor":"#000","domainWidth":1,"labelPadding":3,"labelOverlap":false}},
  "x":{"datum":-0.64,"type":"quantitative","scale":{"domain":[-0.64,241.6],"nice":false,"zero":false,"padding":0},"axis":null},"x2":{"datum":219.5}}},
{"data":{"name":"bars"},"mark":{"type":"rule","color":"#000","strokeWidth":1},
 "encoding":{"x":{"field":"i","type":"quantitative","scale":{"domain":[-0.64,241.6],"nice":false,"zero":false,"padding":0},"axis":null},
  "y":{"field":"l","type":"quantitative","scale":{"domain":[11262.87,11312.56],"nice":false,"zero":false,"padding":0},"axis":null},"y2":{"field":"h"}}},
{"data":{"name":"bars"},"mark":{"type":"bar","orient":"vertical","width":4,"stroke":"#000","strokeWidth":0.7},
 "encoding":{"x":{"field":"i","type":"quantitative","scale":{"domain":[-0.64,241.6],"nice":false,"zero":false,"padding":0},"axis":null},
  "y":{"field":"o","type":"quantitative","scale":{"domain":[11262.87,11312.56],"nice":false,"zero":false,"padding":0},"axis":null},"y2":{"field":"c"},
  "color":{"condition":{"test":"datum.c>datum.o","value":"#00dc00"},"value":"#dc0000"}}},
{"data":{"name":"lines"},"transform":[{"filter":{"field":"s","oneOf":["u","m"]}}],"mark":{"type":"line","strokeWidth":2,"color":"#f4f4f4","clip":true},
 "encoding":{"x":{"field":"i","type":"quantitative","scale":{"domain":[-0.64,241.6],"nice":false,"zero":false,"padding":0},"axis":null},
  "y":{"field":"p","type":"quantitative","scale":{"domain":[11262.87,11312.56],"nice":false,"zero":false,"padding":0},"axis":null},"detail":{"field":"s"}}},
{"data":{"name":"lines"},"transform":[{"filter":"datum.s=='g'"}],"mark":{"type":"line","strokeWidth":2,"color":"#ff00ff","clip":true},
 "encoding":{"x":{"field":"i","type":"quantitative","scale":{"domain":[-0.64,241.6],"nice":false,"zero":false,"padding":0},"axis":null},
  "y":{"field":"p","type":"quantitative","scale":{"domain":[11262.87,11312.56],"nice":false,"zero":false,"padding":0},"axis":null}}},
{"data":{"name":"lines"},"transform":[{"filter":{"field":"s","oneOf":["b","k"]}}],"mark":{"type":"line","strokeWidth":2,"color":"#000000","clip":true},
 "encoding":{"x":{"field":"i","type":"quantitative","scale":{"domain":[-0.64,241.6],"nice":false,"zero":false,"padding":0},"axis":null},
  "y":{"field":"p","type":"quantitative","scale":{"domain":[11262.87,11312.56],"nice":false,"zero":false,"padding":0},"axis":null},"detail":{"field":"s"}}},
{"data":{"name":"lines"},"transform":[{"filter":"datum.s=='w'"}],"mark":{"type":"line","strokeWidth":1.6,"color":"#ffffff","clip":true},
 "encoding":{"x":{"field":"i","type":"quantitative","scale":{"domain":[-0.64,241.6],"nice":false,"zero":false,"padding":0},"axis":null},
  "y":{"field":"p","type":"quantitative","scale":{"domain":[11262.87,11312.56],"nice":false,"zero":false,"padding":0},"axis":null}}},
{"data":{"name":"lines"},"transform":[{"filter":"datum.s=='y'"}],"mark":{"type":"line","strokeWidth":1.6,"color":"#ffff00","clip":true},
 "encoding":{"x":{"field":"i","type":"quantitative","scale":{"domain":[-0.64,241.6],"nice":false,"zero":false,"padding":0},"axis":null},
  "y":{"field":"p","type":"quantitative","scale":{"domain":[11262.87,11312.56],"nice":false,"zero":false,"padding":0},"axis":null}}},
{"data":{"values":[{"a":80.3,"b":96.8,"p":11267.55},{"a":115.9,"b":150.8,"p":11267.55}]},"mark":{"type":"rule","color":"#3d5a44","strokeWidth":3,"opacity":0.6},
 "encoding":{"x":{"field":"a","type":"quantitative","scale":{"domain":[-0.64,241.6],"nice":false,"zero":false,"padding":0},"axis":null},"x2":{"field":"b"},
  "y":{"field":"p","type":"quantitative","scale":{"domain":[11262.87,11312.56],"nice":false,"zero":false,"padding":0},"axis":null}}},
{"data":{"values":[{"a":80.3,"b":96.8,"p":11267.85},{"a":115.9,"b":150.8,"p":11267.85}]},"mark":{"type":"rule","color":"#00e6e6","strokeWidth":3},
 "encoding":{"x":{"field":"a","type":"quantitative","scale":{"domain":[-0.64,241.6],"nice":false,"zero":false,"padding":0},"axis":null},"x2":{"field":"b"},
  "y":{"field":"p","type":"quantitative","scale":{"domain":[11262.87,11312.56],"nice":false,"zero":false,"padding":0},"axis":null}}},
{"data":{"values":[{"i":94.0,"p":11275.1},{"i":136.8,"p":11268.2}]},"mark":{"type":"point","shape":"circle","filled":false,"size":460,"stroke":"#00e6e6","strokeWidth":2,"opacity":1},
 "encoding":{"x":{"field":"i","type":"quantitative","scale":{"domain":[-0.64,241.6],"nice":false,"zero":false,"padding":0},"axis":null},
  "y":{"field":"p","type":"quantitative","scale":{"domain":[11262.87,11312.56],"nice":false,"zero":false,"padding":0},"axis":null}}},
{"data":{"name":"cursor"},"mark":{"type":"rule","color":"#8a7a94","strokeWidth":1},
 "encoding":{"x":{"field":"c","type":"quantitative","scale":{"domain":[-0.64,241.6],"nice":false,"zero":false,"padding":0},"axis":null}}},
{"data":{"values":[{"i":242.9,"p":11269.5,"t":"11269"}]},"mark":{"type":"text","align":"left","baseline":"middle","font":"Liberation Sans","fontSize":11.5,"color":"#000"},
 "encoding":{"x":{"field":"i","type":"quantitative","scale":{"domain":[-0.64,241.6],"nice":false,"zero":false,"padding":0},"axis":null},
  "y":{"field":"p","type":"quantitative","scale":{"domain":[11262.87,11312.56],"nice":false,"zero":false,"padding":0},"axis":null},"text":{"field":"t"}}},
{"data":{"values":[{"a":246.8,"b":256,"p1":11312.35,"p2":11311.35}]},"mark":{"type":"rect","color":"#cdf5c9"},
 "encoding":{"x":{"field":"a","type":"quantitative","scale":{"domain":[-0.64,241.6],"nice":false,"zero":false,"padding":0},"axis":null},"x2":{"field":"b"},
  "y":{"field":"p1","type":"quantitative","scale":{"domain":[11262.87,11312.56],"nice":false,"zero":false,"padding":0},"axis":null},"y2":{"field":"p2"}}},
{"data":{"values":[{"i":247.0,"p":11311.85,"t":"11312"}]},"mark":{"type":"text","align":"left","baseline":"middle","font":"Liberation Sans","fontSize":9.5,"color":"#000"},
 "encoding":{"x":{"field":"i","type":"quantitative","scale":{"domain":[-0.64,241.6],"nice":false,"zero":false,"padding":0},"axis":null},
  "y":{"field":"p","type":"quantitative","scale":{"domain":[11262.87,11312.56],"nice":false,"zero":false,"padding":0},"axis":null},"text":{"field":"t"}}}
]
},
{
"width":952,"height":226,
"view":{"fill":"#6f9a77","stroke":"#000"},
"resolve":{"axis":{"x":"independent","y":"independent"}},
"layer":[
{"data":{"values":[{"a":-0.64,"b":219.5,"y1":301,"y2":-301}]},"mark":{"type":"rect","color":"#4a6b52"},
 "encoding":{"x":{"field":"a","type":"quantitative","scale":{"domain":[-0.64,241.6],"nice":false,"zero":false,"padding":0},"axis":null},"x2":{"field":"b"},
  "y":{"field":"y1","type":"quantitative","scale":{"domain":[-301,301],"nice":false,"zero":false,"padding":0},"axis":null},"y2":{"field":"y2"}}},
{"data":{"name":"ogrid"},"transform":[{"filter":"datum.t=='d'"}],"mark":{"type":"rule","color":"#1b2b1e","strokeDash":[1.5,4.5],"strokeWidth":1},
 "encoding":{"y":{"field":"v","type":"quantitative","scale":{"domain":[-301,301],"nice":false,"zero":false,"padding":0},"axis":null},
  "x":{"datum":-0.64,"type":"quantitative","scale":{"domain":[-0.64,241.6],"nice":false,"zero":false,"padding":0},"axis":null},"x2":{"datum":219.5}}},
{"data":{"name":"bars"},"mark":{"type":"bar","orient":"vertical","width":3.93},
 "encoding":{"x":{"field":"i","type":"quantitative","scale":{"domain":[-0.64,241.6],"nice":false,"zero":false,"padding":0},
   "axis":{"values":[2,9,16,23,30,37,44,51,58,65,72,79,86,93,100,107,114,121,128,135,142,149,156,163,170,177,184,191,198,205,212,219],
    "labelExpr":"[['10:07','10:08','10:09','10:09','10:10','10:10','10:11','10:11','10:11','10:12','10:13','10:13','10:13','10:14','10:14','10:15','10:16','10:16','10:17','10:17','10:17','10:18','10:19','10:20','10:20','10:21','10:22','10:22','10:23','10:24','10:24','10:25'][round((datum.value-2)/7)],'09/10']",
    "title":null,"domain":false,"ticks":true,"tickColor":"#000","tickSize":5,"labelPadding":-3,"labelLineHeight":11,"labelFontSize":8,"labelAlign":"left","labelOffset":-10,"labelOverlap":false,"labelBound":false,"labelFlush":false,"grid":false}},
  "y":{"field":"v","type":"quantitative","scale":{"domain":[-301,301],"nice":false,"zero":false,"padding":0},
   "axis":{"orient":"right","values":[240,160,80,0,-80,-160,-240],"labelExpr":"''+datum.value","title":null,"ticks":false,"grid":false,"domain":false,"labelPadding":4,"labelOverlap":false}},
  "y2":{"datum":0},
  "color":{"field":"k","type":"nominal","scale":{"domain":["r","g","d","y"],"range":["#c80000","#00c450","#3c3c3c","#c8be3c"]},"legend":null}}},
{"data":{"name":"ogrid"},"transform":[{"filter":"datum.t=='z'"}],"mark":{"type":"rule","color":"#c00000","strokeWidth":2},
 "encoding":{"y":{"field":"v","type":"quantitative","scale":{"domain":[-301,301],"nice":false,"zero":false,"padding":0},"axis":null},
  "x":{"datum":-0.64,"type":"quantitative","scale":{"domain":[-0.64,241.6],"nice":false,"zero":false,"padding":0},"axis":null},"x2":{"datum":219.5}}},
{"data":{"name":"ogrid"},"transform":[{"filter":"datum.t=='g' || datum.t=='z'"}],"mark":{"type":"rule","color":"#12c84e","strokeWidth":2,"strokeDash":[5,3]},
 "encoding":{"y":{"field":"v","type":"quantitative","scale":{"domain":[-301,301],"nice":false,"zero":false,"padding":0},"axis":null},
  "x":{"datum":-0.64,"type":"quantitative","scale":{"domain":[-0.64,241.6],"nice":false,"zero":false,"padding":0},"axis":null},"x2":{"datum":219.5}}},
{"data":{"name":"ogrid"},"transform":[{"filter":"datum.t=='m'"}],"mark":{"type":"rule","color":"#7a1f4c","strokeWidth":2},
 "encoding":{"y":{"field":"v","type":"quantitative","scale":{"domain":[-301,301],"nice":false,"zero":false,"padding":0},"axis":null},
  "x":{"datum":-0.64,"type":"quantitative","scale":{"domain":[-0.64,241.6],"nice":false,"zero":false,"padding":0},"axis":null},"x2":{"datum":219.5}}},
{"data":{"name":"ogrid"},"transform":[{"filter":"datum.t=='m'"}],"mark":{"type":"rule","color":"#e8e030","strokeWidth":2,"strokeDash":[3,9]},
 "encoding":{"y":{"field":"v","type":"quantitative","scale":{"domain":[-301,301],"nice":false,"zero":false,"padding":0},"axis":null},
  "x":{"datum":-0.64,"type":"quantitative","scale":{"domain":[-0.64,241.6],"nice":false,"zero":false,"padding":0},"axis":null},"x2":{"datum":219.5}}},
{"data":{"name":"bars"},"mark":{"type":"line","color":"#000","strokeWidth":3},
 "encoding":{"x":{"field":"i","type":"quantitative","scale":{"domain":[-0.64,241.6],"nice":false,"zero":false,"padding":0},"axis":null},
  "y":{"field":"v","type":"quantitative","scale":{"domain":[-301,301],"nice":false,"zero":false,"padding":0},"axis":null}}},
{"data":{"name":"cursor"},"mark":{"type":"rule","color":"#8a7a94","strokeWidth":1},
 "encoding":{"x":{"field":"c","type":"quantitative","scale":{"domain":[-0.64,241.6],"nice":false,"zero":false,"padding":0},"axis":null}}},
{"data":{"values":[{"i":242.4,"v":-37.3,"t":"-50.02"}]},"mark":{"type":"text","align":"left","baseline":"middle","font":"Liberation Sans","fontSize":11.5,"color":"#000"},
 "encoding":{"x":{"field":"i","type":"quantitative","scale":{"domain":[-0.64,241.6],"nice":false,"zero":false,"padding":0},"axis":null},
  "y":{"field":"v","type":"quantitative","scale":{"domain":[-301,301],"nice":false,"zero":false,"padding":0},"axis":null},"text":{"field":"t"}}},
{"data":{"values":[{"a":226.1,"b":245.0,"y1":-341,"y2":-372}]},"mark":{"type":"rect","color":"#00ff00"},
 "encoding":{"x":{"field":"a","type":"quantitative","scale":{"domain":[-0.64,241.6],"nice":false,"zero":false,"padding":0},"axis":null},"x2":{"field":"b"},
  "y":{"field":"y1","type":"quantitative","scale":{"domain":[-301,301],"nice":false,"zero":false,"padding":0},"axis":null},"y2":{"field":"y2"}}},
{"data":{"values":[{"i":221.3,"v":-357,"t":"0:04"}]},"mark":{"type":"text","align":"left","baseline":"middle","font":"Liberation Sans","fontWeight":"bold","fontSize":10.5,"color":"#ffffff"},
 "encoding":{"x":{"field":"i","type":"quantitative","scale":{"domain":[-0.64,241.6],"nice":false,"zero":false,"padding":0},"axis":null},
  "y":{"field":"v","type":"quantitative","scale":{"domain":[-301,301],"nice":false,"zero":false,"padding":0},"axis":null},"text":{"field":"t"}}},
{"data":{"values":[{"i":226.4,"v":-357,"t":"128.2 Trending"}]},"mark":{"type":"text","align":"left","baseline":"middle","font":"Liberation Sans","fontWeight":"bold","fontSize":10,"color":"#000"},
 "encoding":{"x":{"field":"i","type":"quantitative","scale":{"domain":[-0.64,241.6],"nice":false,"zero":false,"padding":0},"axis":null},
  "y":{"field":"v","type":"quantitative","scale":{"domain":[-301,301],"nice":false,"zero":false,"padding":0},"axis":null},"text":{"field":"t"}}}
]
}
]
}
